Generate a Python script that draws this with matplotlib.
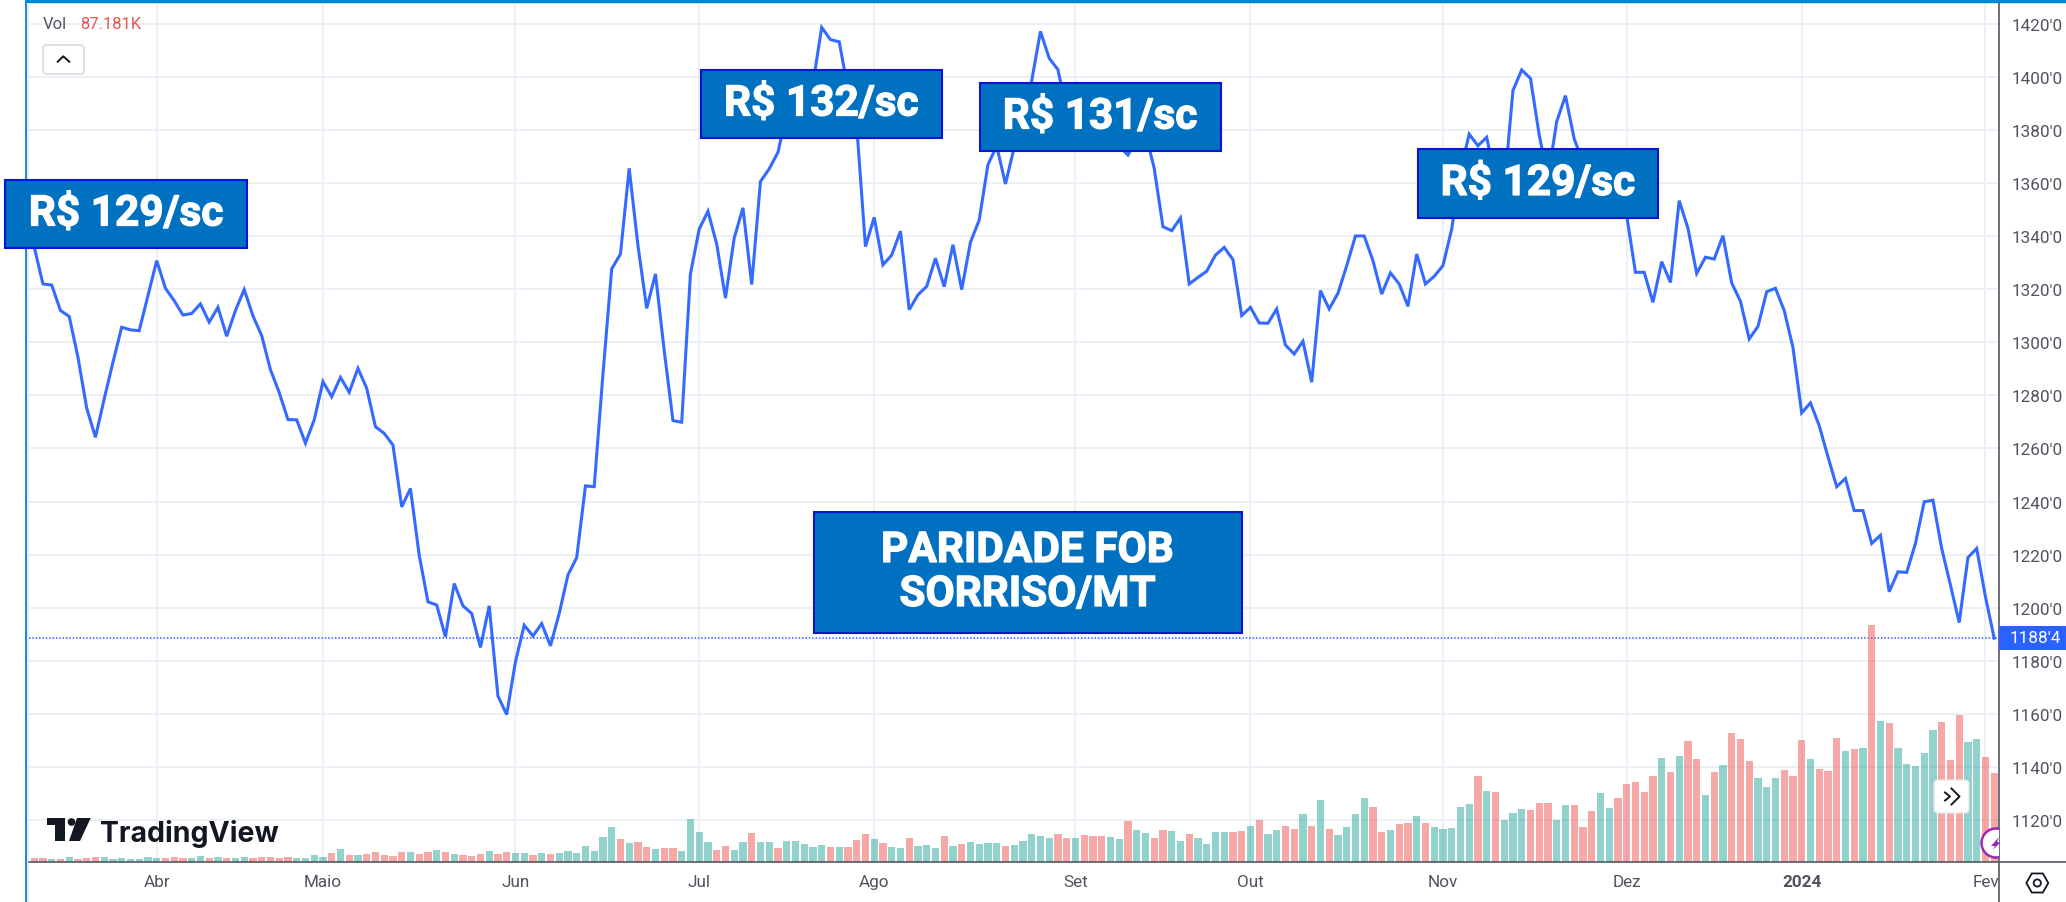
import numpy as np
import matplotlib
matplotlib.use("Agg")
import matplotlib.pyplot as plt
import matplotlib.patheffects as pe
from matplotlib.patches import Rectangle, FancyBboxPatch, Circle, Polygon, RegularPolygon
from matplotlib.lines import Line2D
from matplotlib.transforms import Affine2D, Bbox

plt.rcParams["font.family"] = ["Roboto", "DejaVu Sans"]

# ==========================================
# Data
# ==========================================
price = [
    1336, 1322, 1321.6, 1312, 1309.8, 1294.4, 1275.2, 1264.2, 1278.7, 1292.5,
    1305.7, 1304.7, 1304.4, 1317.6, 1330.8, 1320.4, 1315.7, 1310.3, 1310.9, 1314.5,
    1307.6, 1313.2, 1302.3, 1312, 1319.9, 1310, 1302.5, 1289.7, 1281.1, 1270.9,
    1270.8, 1262, 1270.8, 1285.2, 1279.5, 1286.8, 1281.2, 1290.2, 1282.7, 1268.2,
    1265.7, 1261.3, 1238, 1244.9, 1219.8, 1202.2, 1201, 1189, 1209.1, 1200.7,
    1197.8, 1185, 1200.7, 1166.7, 1159.7, 1179.6, 1193.4, 1189.3, 1194, 1185.6,
    1197.8, 1212.3, 1218.9, 1245.9, 1245.6, 1288, 1327.7, 1333.3, 1365.6, 1336.5,
    1312.8, 1325.8, 1296.9, 1270.5, 1269.9, 1325.8, 1342.7, 1349.4, 1337.1, 1316.7,
    1339.3, 1350.7, 1321.8, 1360.6, 1365.4, 1371.6, 1386.7, 1391, 1394, 1397.5,
    1418.7, 1414.1, 1413.3, 1395.5, 1381.7, 1336.1, 1347.1, 1329.2, 1332.9, 1341.9,
    1312.3, 1317.9, 1321.1, 1331.7, 1321, 1336.8, 1319.9, 1337.7, 1346.1, 1367,
    1374, 1359.7, 1373.5, 1386, 1398.6, 1417.2, 1407.1, 1402.8, 1387, 1385,
    1382, 1379, 1376, 1377, 1374, 1370.6, 1376.7, 1379, 1365.6, 1343.6,
    1342.1, 1346.9, 1322, 1324.5, 1326.8, 1332.9, 1335.8, 1331.2, 1310.1, 1313.2,
    1307.3, 1307.2, 1312.6, 1299, 1295.6, 1300.4, 1285, 1319.5, 1312.6, 1318.5,
    1328.9, 1340.1, 1340.1, 1330.8, 1318.2, 1326.2, 1322, 1313.6, 1333.3, 1322,
    1324.9, 1328.9, 1342.7, 1364.5, 1378.5, 1374.1, 1377.3, 1361.6, 1357.8, 1394.9,
    1402.7, 1399.5, 1378.2, 1361.8, 1383.2, 1393, 1376.7, 1368, 1366, 1365,
    1362, 1355, 1347.8, 1326.4, 1326.4, 1315.1, 1330.4, 1322.6, 1353.4, 1343,
    1326, 1332.1, 1331.4, 1340.2, 1322.4, 1315.5, 1301.3, 1306, 1319.1, 1320.4,
    1312, 1298.1, 1273.4, 1277.2, 1268.6, 1256.9, 1245.6, 1248.7, 1236.6, 1236.6,
    1224.2, 1227.3, 1206, 1213.5, 1213.3, 1224.2, 1239.9, 1240.5, 1222.3, 1208.5,
    1194.4, 1218.9, 1222.3, 1204.1, 1188.5,
]

# relative bar heights, the last one is the 87.181K of the header
volume = [
    12, 12, 10, 10, 15, 10, 14, 17, 15, 10,
    12, 10, 10, 16, 12, 14, 15, 13, 12, 18,
    14, 16, 12, 12, 15, 12, 16, 15, 13, 16,
    14, 14, 21, 16, 28, 39, 23, 21, 24, 30,
    22, 19, 30, 30, 24, 32, 36, 30, 24, 22,
    19, 24, 33, 26, 32, 28, 27, 22, 27, 25,
    28, 34, 27, 48, 34, 75, 105, 71, 57, 62,
    47, 40, 43, 43, 33, 131, 92, 62, 36, 48,
    36, 60, 89, 60, 62, 43, 65, 65, 54, 45,
    51, 45, 46, 45, 66, 84, 71, 58, 46, 43,
    72, 48, 52, 42, 78, 48, 54, 60, 54, 58,
    57, 48, 52, 63, 85, 79, 72, 86, 74, 72,
    81, 80, 78, 75, 70, 124, 96, 88, 72, 98,
    93, 65, 85, 74, 55, 92, 92, 92, 94, 108,
    126, 84, 98, 110, 101, 144, 110, 186, 99, 82,
    107, 146, 194, 165, 92, 98, 115, 118, 138, 118,
    105, 100, 104, 167, 174, 259, 213, 211, 127, 148,
    160, 158, 177, 177, 126, 171, 171, 105, 154, 209,
    163, 193, 236, 240, 210, 259, 312, 272, 319, 364,
    309, 202, 270, 291, 387, 371, 303, 253, 227, 253,
    276, 259, 367, 309, 280, 275, 373, 335, 340, 343,
    713, 425, 419, 343, 295, 289, 329, 396, 420, 307,
    443, 360, 371, 316, 268,
]

# g = up bar, r = down bar
vol_side = (
    "rrgrgrrrgg" "gggggrrrgg" "rgrggrrrrr" "ggggrgrgrr" "rrrgrrgrgr"
    "rrgrrggrgr" "gggggggrgr" "rgrrggggrr" "ggrggrgggg" "grgrrrgrgg"
    "rgggrgrggg" "grgggggrrg" "rrrggrggrr" "ggrggggrrg" "rggrrgrgrg"
    "gggrrgrrgr" "gggggrgrgg" "grrrggrrrg" "grrrrrgrgr" "rgrgrrrggg"
    "rrrgrrrgrg" "rgrgggggrr" "rggrr"
)

month_pos = [14, 33, 55, 76, 96, 119, 139, 161, 182, 202, 223]
month_labels = ["Abr", "Maio", "Jun", "Jul", "Ago", "Set", "Out", "Nov", "Dez", "2024", "Fev"]
price_ticks = list(range(1120, 1421, 20))
last_price = 1188.5
last_label = "1188'4"
vol_label = "87.181K"
callouts = ["R$ 129/sc", "R$ 132/sc", "R$ 131/sc", "R$ 129/sc"]
title_lines = ["PARIDADE FOB", "SORRISO/MT"]

# ==========================================
# Layout, in pixels of the 2066x903 picture
# ==========================================
W, H = 2066, 903
LEFT, RIGHT, TOP, BOTTOM = 29, 1999.4, 4.5, 863.3
BLUE = "#2962FF"
GRID = "#EBF0F6"
TICK = "#50535E"
BOX = "#0070C0"
BOX_EDGE = "#0A14D2"

fig = plt.figure(figsize=(W / 100, H / 100), dpi=100, facecolor="white")
px = Affine2D().scale(1, -1).translate(0, H)  # top-left origin pixels
ax = fig.add_axes([LEFT / W, 1 - BOTTOM / H, (RIGHT - LEFT) / W, (BOTTOM - TOP) / H])

x = np.arange(len(price))
ax.set_xlim((LEFT - 34.2) / 8.75, (RIGHT - 34.2) / 8.75)
ax.set_ylim(1420 - (BOTTOM - 25) / 2.653, 1420 - (TOP - 25) / 2.653)

ax.plot(x, price, color=BLUE, lw=2.2, alpha=0.95, solid_joinstyle="miter", zorder=3)
ax.axhline(last_price, color=BLUE, lw=1.1, ls=(0, (1, 1.2)), zorder=2)

# volume bars on their own scale, twinx moves the ticks so it comes first
ax_vol = ax.twinx()
ax_vol.set_ylim(0, (BOTTOM - TOP) * 3)
colors = ["#26A69A" if s == "g" else "#EF5350" for s in vol_side]
ax_vol.bar(x, volume, width=0.82, color=colors, alpha=0.5, linewidth=0)
ax_vol.axis("off")

ax.set_xticks(month_pos)
ax.set_xticklabels(month_labels)
ax.set_yticks(price_ticks)
ax.set_yticklabels([f"{v}'0" for v in price_ticks])
ax.yaxis.tick_right()
ax.grid(True, color=GRID, lw=1.4)
ax.set_axisbelow(True)
ax.tick_params(axis="both", length=0, labelcolor=TICK, labelsize=12.3)
ax.tick_params(axis="y", pad=8.5)
ax.tick_params(axis="x", pad=8.5)
for spine in ax.spines.values():
    spine.set_visible(False)
for lab in ax.get_xticklabels():
    lab.set_clip_box(Bbox.from_extents(0, 0, RIGHT, H))
    lab.set_clip_on(True)
    if lab.get_text() == "2024":
        lab.set_fontweight("bold")


def box(x0, y0, x1, y1, lines, size):
    fig.add_artist(Rectangle((x0, y0), x1 - x0, y1 - y0, transform=px, facecolor=BOX,
                             edgecolor=BOX_EDGE, lw=1.5, zorder=5))
    gap = 44
    cy = (y0 + y1) / 2 - gap * (len(lines) - 1) / 2
    for i, line in enumerate(lines):
        t = fig.text((x0 + x1) / 2, cy + i * gap, line, transform=px, color="white", fontsize=size,
                     fontweight="bold", ha="center", va="center", zorder=6)
        t.set_path_effects([pe.withStroke(linewidth=0.9, foreground="white")])


box(5.4, 181, 247, 249, [callouts[0]], 30.5)
box(701, 71, 942, 139, [callouts[1]], 30.5)
box(979.5, 84, 1221, 152, [callouts[2]], 30.5)
box(1418, 150, 1658, 219, [callouts[3]], 30.5)
box(814, 512.7, 1241.5, 634.3, title_lines, 30.5)

# frame of the chart
fig.add_artist(Rectangle((0, 0), W, 3.5, transform=px, facecolor="#0088D8", edgecolor="none", zorder=4))
fig.add_artist(Rectangle((0, 3.5), W, 1.2, transform=px, facecolor="#BFE8F8", edgecolor="none", zorder=4))
fig.add_artist(Rectangle((0, 0), 24.5, 4.7, transform=px, facecolor="white", edgecolor="none", zorder=4))
fig.add_artist(Rectangle((25, 0), 2, H, transform=px, facecolor="#1E88E5", edgecolor="none", zorder=4))
fig.add_artist(Rectangle((27, 4), 2, H, transform=px, facecolor="#E8EEF5", edgecolor="none", zorder=4))
fig.add_artist(Line2D([29, W], [BOTTOM, BOTTOM], transform=px, color="#555862", lw=1.2, zorder=4))
fig.add_artist(Line2D([RIGHT, RIGHT], [4, H], transform=px, color="#555862", lw=1.2, zorder=4))

# last price tag
fig.add_artist(Rectangle((RIGHT, 626.7), W - RIGHT, 24.3, transform=px, facecolor=BLUE, edgecolor="none", zorder=5))
fig.text(2035, 639, last_label, transform=px, color="white", fontsize=12.3, ha="center", va="center", zorder=6)

# header
fig.text(43, 25, "Vol", transform=px, color=TICK, fontsize=12, va="center", zorder=6)
fig.text(80, 25, vol_label, transform=px, color="#EF5350", fontsize=12, va="center", zorder=6)
fig.add_artist(FancyBboxPatch((43, 46), 41, 29, boxstyle="round,pad=0,rounding_size=3", transform=px,
                              facecolor="white", edgecolor="#D6D8DE", lw=1.1, zorder=5))
fig.add_artist(Line2D([57.7, 63.3, 69.3], [62.7, 57.3, 62.7], transform=px, color="#131722", lw=1.4, zorder=6))

# TradingView logo
LOGO = "#131722"
fig.add_artist(Polygon([(46.7, 819), (65, 819), (65, 842), (55, 842), (55, 826), (46.7, 826)], transform=px,
                       facecolor=LOGO, edgecolor="none", zorder=6))
fig.add_artist(Circle((71.5, 823), 3.8, transform=px, facecolor=LOGO, edgecolor="none", zorder=6))
fig.add_artist(Polygon([(77, 819), (90.7, 819), (80, 842), (69, 842)], transform=px,
                       facecolor=LOGO, edgecolor="none", zorder=6))
fig.text(100, 842, "TradingView", transform=px, color=LOGO, fontsize=20.5, fontweight="bold",
         family=["Inter", "DejaVu Sans"], va="baseline", zorder=6)

# scroll button
fig.add_artist(FancyBboxPatch((1934, 781), 35, 33, boxstyle="round,pad=0,rounding_size=4", transform=px,
                              facecolor="white", edgecolor="#E4E6EA", lw=0.8, zorder=5))
fig.add_artist(Line2D([1945, 1950, 1945], [793.5, 797.5, 801.5], transform=px, color="#131722", lw=1.4, zorder=6))
fig.add_artist(Line2D([1951.5, 1959.5, 1951.5], [789.5, 797.5, 805.5], transform=px, color="#131722", lw=1.4, zorder=6))

# purple badge cut by the price axis
clip = Bbox.from_extents(0, 0, RIGHT, H)
badge = Circle((1996, 844), 14.5, transform=px, facecolor="white", edgecolor="#9C27B0", lw=1.8, zorder=5)
fig.add_artist(badge)
badge.set_clip_box(clip)
bolt = Polygon([(1999, 838), (1991, 847), (1995, 847), (1992.5, 851), (2001, 843), (1997, 843)], transform=px,
               facecolor="#9C27B0", edgecolor="none", zorder=6)
fig.add_artist(bolt)
bolt.set_clip_box(clip)

# settings icon
fig.add_artist(RegularPolygon((2037.3, 884), 6, radius=11, orientation=np.pi / 6, transform=px,
                              facecolor="none", edgecolor="#131722", lw=1.3, zorder=6))
fig.add_artist(Circle((2037.3, 884), 3.6, transform=px, facecolor="none", edgecolor="#131722", lw=1.3, zorder=6))

fig.savefig("out.png", dpi=100)
